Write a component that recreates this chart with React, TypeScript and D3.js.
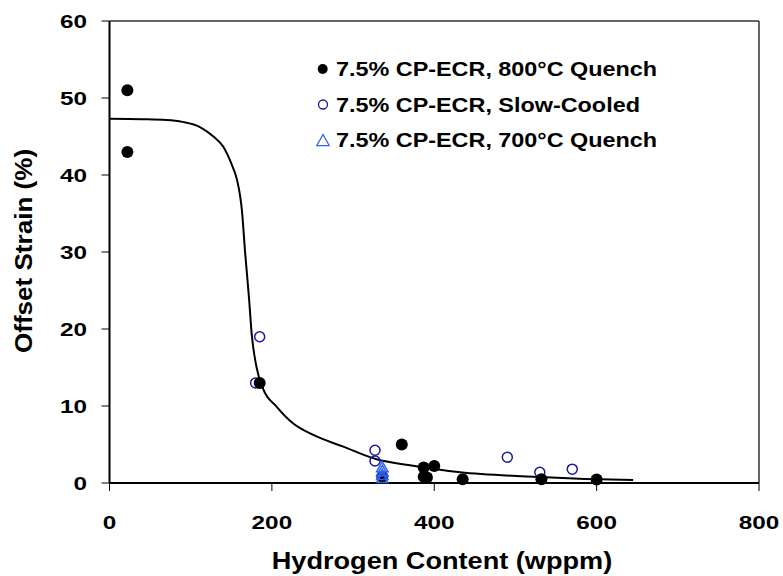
import React from "react";
import * as d3 from "d3";

const xTicks = [0, 200, 400, 600, 800];
const yTicks = [0, 10, 20, 30, 40, 50, 60];

const quench800X = [22, 22, 185, 360, 387, 400, 387, 391, 336, 435, 532, 600];
const quench800Y = [51, 43, 13, 5.0, 2.0, 2.2, 0.8, 0.7, 0.8, 0.5, 0.5, 0.45];

const slowX = [185, 180, 327, 327, 490, 530, 570];
const slowY = [19, 13, 4.25, 2.85, 3.35, 1.4, 1.8];

const q700X = [336, 336, 336, 336];
const q700Y = [0.6, 1.0, 1.5, 2.0];

const fitX = [0, 40, 70, 90, 112, 128, 140, 150, 157, 161, 163, 167, 172, 175, 181, 189, 206, 226, 251, 288, 329, 370, 432, 522, 604, 645];
const fitY = [47.3, 47.25, 47.15, 46.9, 46.2, 45.0, 43.7, 41.5, 39.4, 37.2, 35.5, 30.0, 23.8, 19.5, 15.1, 12.3, 9.9, 7.76, 6.24, 4.72, 3.08, 2.3, 1.39, 0.82, 0.48, 0.39];

const legendLabels = [
  "7.5% CP-ECR, 800°C Quench",
  "7.5% CP-ECR, Slow-Cooled",
  "7.5% CP-ECR, 700°C Quench",
];

const font = "'Liberation Sans', Arial, sans-serif";
const navy = "#1a1a9c";
const blue = "#3060f0";

function T(props: {
  x: number;
  y: number;
  size: number;
  sx: number;
  anchor?: string;
  rot?: number;
  dy?: string;
  children: React.ReactNode;
}) {
  const { x, y, size, sx, anchor = "start", rot = 0, dy, children } = props;
  return (
    <text
      transform={`translate(${x},${y}) rotate(${rot}) scale(${sx},1)`}
      textAnchor={anchor}
      dy={dy}
      fontFamily={font}
      fontWeight="bold"
      fontSize={size}
      fill="#000"
    >
      {children}
    </text>
  );
}

export default function App() {
  const x = d3.scaleLinear().domain([0, 800]).range([109.5, 759]);
  const y = d3.scaleLinear().domain([0, 60]).range([483, 21]);
  const line = d3
    .line<number>()
    .x((_, i) => x(fitX[i]))
    .y((_, i) => y(fitY[i]))
    .curve(d3.curveMonotoneX);
  const tri = (cx: number, cy: number, s: number) =>
    `M${cx},${cy - s}L${cx + s * 0.95},${cy + s * 0.7}L${cx - s * 0.95},${cy + s * 0.7}Z`;

  return (
    <svg width={783} height={576} style={{ position: "absolute", left: 0, top: 0 }}>
      <rect width={783} height={576} fill="#fff" />
      {/* frame */}
      <line x1={x(0)} x2={x(800)} y1={y(60)} y2={y(60)} stroke="#333" strokeWidth={1.5} />
      <line x1={x(800)} x2={x(800)} y1={y(60)} y2={y(0)} stroke="#333" strokeWidth={1.5} />
      <line x1={x(0)} x2={x(0)} y1={y(60)} y2={y(0)} stroke="#000" strokeWidth={2} />
      <line x1={x(0)} x2={x(800)} y1={y(0)} y2={y(0)} stroke="#000" strokeWidth={2} />
      {yTicks.map((t) => (
        <g key={"y" + t}>
          <line x1={x(0) - 8} x2={x(0)} y1={y(t)} y2={y(t)} stroke="#000" strokeWidth={1} />
          <T x={87} y={y(t) + 6.8} size={19} sx={1.28} anchor="end">
            {t}
          </T>
        </g>
      ))}
      {xTicks.map((t) => (
        <g key={"x" + t}>
          <line x1={x(t)} x2={x(t)} y1={y(0)} y2={y(0) + 8} stroke="#000" strokeWidth={1} />
          <T x={x(t)} y={529} size={19} sx={1.28} anchor="middle">
            {t}
          </T>
        </g>
      ))}
      <T x={442} y={568.5} size={23} sx={1.18} anchor="middle">
        Hydrogen Content (wppm)
      </T>
      <T x={32} y={251} size={24} sx={1.086} anchor="middle" rot={-90}>
        Offset Strain (%)
      </T>
      {/* fit curve */}
      <path d={line(fitX) || ""} fill="none" stroke="#000" strokeWidth={2} />
      {/* data */}
      {slowX.map((v, i) => (
        <circle key={"s" + i} cx={x(v)} cy={y(slowY[i])} r={5} fill="none" stroke={navy} strokeWidth={1.5} />
      ))}
      {quench800X.map((v, i) => (
        <circle key={"q" + i} cx={x(v)} cy={y(quench800Y[i])} r={6} fill="#000" />
      ))}
      {q700X.map((v, i) => (
        <path key={"t" + i} d={tri(x(v), y(q700Y[i]), 6)} fill="none" stroke={blue} strokeWidth={1.5} />
      ))}
      {/* legend */}
      {legendLabels.map((lab, i) => {
        const ly = 69 + i * 35.5;
        return (
          <g key={"l" + i}>
            {i === 0 && <circle cx={322.7} cy={ly} r={5} fill="#000" />}
            {i === 1 && <circle cx={323} cy={ly} r={4.5} fill="none" stroke={navy} strokeWidth={1.3} />}
            {i === 2 && <path d={tri(323, ly + 1, 6.5)} fill="none" stroke={blue} strokeWidth={1.3} />}
            <T x={336} y={ly + 7} size={19.5} sx={1.2}>
              {lab}
            </T>
          </g>
        );
      })}
    </svg>
  );
}
